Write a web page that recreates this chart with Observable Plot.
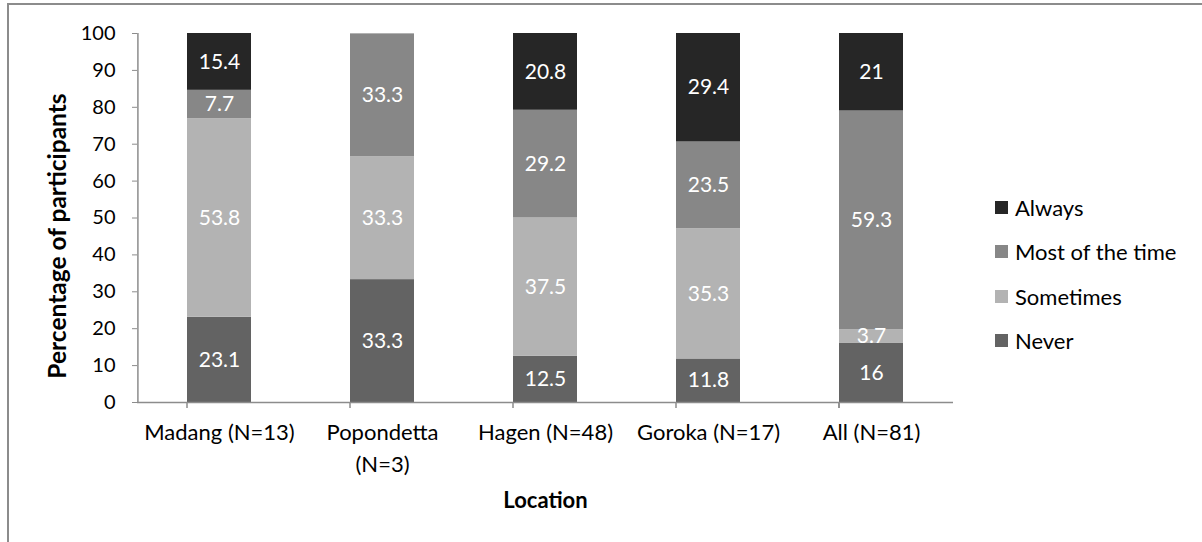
<!DOCTYPE html>
<html>
<head>
<meta charset="utf-8">
<script src="https://cdn.jsdelivr.net/npm/d3@7"></script>
<script src="https://cdn.jsdelivr.net/npm/@observablehq/plot@0.6"></script>
<style>
  html, body { margin: 0; padding: 0; background: #fff; }
  #wrap { position: relative; width: 1202px; height: 542px; overflow: hidden; font-family: Lato, "Open Sans", sans-serif; }
  #frame { position: absolute; left: 7px; top: 3px; width: 1300px; height: 700px; border-top: 2px solid #8c8c8c; border-left: 2px solid #8c8c8c; pointer-events: none; }
  #legend { position: absolute; left: 995px; top: 194px; font-size: 22px; color: #000; }
  #legend .item { display: flex; align-items: center; height: 26px; margin-bottom: 18.5px; }
  #legend .sw { width: 13px; height: 13px; margin-right: 7px; }
</style>
</head>
<body>
<div id="wrap"><div id="chart"></div><div id="legend"></div><div id="frame"></div></div>
<script>
const locations = ["Madang (N=13)", "Popondetta (N=3)", "Hagen (N=48)", "Goroka (N=17)", "All (N=81)"];
const locationLabels = ["Madang (N=13)", "Popondetta\n(N=3)", "Hagen (N=48)", "Goroka (N=17)", "All (N=81)"];
const responses = ["Never", "Sometimes", "Most of the time", "Always"];
const colors = ["#636363", "#b3b3b3", "#878787", "#262626"];
const never = [23.1, 33.3, 12.5, 11.8, 16];
const sometimes = [53.8, 33.3, 37.5, 35.3, 3.7];
const mostOfTheTime = [7.7, 33.3, 29.2, 23.5, 59.3];
const always = [15.4, 0, 20.8, 29.4, 21];
const yTicks = [0, 10, 20, 30, 40, 50, 60, 70, 80, 90, 100];
const legendOrder = ["Always", "Most of the time", "Sometimes", "Never"];

const series = [never, sometimes, mostOfTheTime, always];
const data = [];
locations.forEach((loc, i) => {
  responses.forEach((r, j) => {
    data.push({location: loc, response: r, value: series[j][i]});
  });
});

const left = 137, right = 953;
const step = (right - left) / locations.length;
const boundaries = locations.map((l) => ({loc: l, dx: -step / 2})).concat([{loc: locations[locations.length - 1], dx: step / 2}]);

const chart = Plot.plot({
  width: 1202,
  height: 542,
  marginLeft: left,
  marginRight: 1202 - right,
  marginTop: 33,
  marginBottom: 140,
  style: {fontFamily: "Lato, 'Open Sans', sans-serif", fontSize: "20px", color: "#000", background: "transparent"},
  x: {domain: locations, paddingInner: 0.61, paddingOuter: 0.305},
  y: {domain: [0, 100]},
  color: {domain: responses, range: colors},
  marks: [
    Plot.barY(data, Plot.stackY({x: "location", y: "value", fill: "response", order: responses})),
    Plot.text(data.filter(d => d.value > 0), Plot.stackY({x: "location", y: "value", z: "response", order: responses, text: d => String(d.value), fill: "white", fontSize: 21})),
    Plot.ruleY([0], {stroke: "#8c8c8c", strokeWidth: 1.5}),
    Plot.ruleX([locations[0]], {x: d => d, dx: -step / 2, y1: 0, y2: 100, stroke: "#8c8c8c", strokeWidth: 1.5}),
    Plot.axisY({ticks: yTicks, tickSize: 5, tickPadding: 17, stroke: "#8c8c8c", label: null, fontSize: 20}),
    Plot.ruleX(boundaries, {x: "loc", dx: "dx", y1: 0, y2: 0, insetBottom: -6, stroke: "#8c8c8c", strokeWidth: 1.5}),
    Plot.axisX({tickSize: 0, tickPadding: 15, tickFormat: (d) => locationLabels[locations.indexOf(d)], label: null, fontSize: 22, lineHeight: 1.45}),
    Plot.text(["Location"], {frameAnchor: "bottom", dy: 105, fontWeight: "bold", fontSize: 22}),
    Plot.text(["Percentage of participants"], {frameAnchor: "left", rotate: -90, dx: -79, dy: 18, textAnchor: "middle", fontWeight: "bold", fontSize: 24.5})
  ]
});
document.getElementById("chart").appendChild(chart);

const legend = document.getElementById("legend");
legendOrder.forEach(r => {
  const item = document.createElement("div");
  item.className = "item";
  const sw = document.createElement("div");
  sw.className = "sw";
  sw.style.background = colors[responses.indexOf(r)];
  const t = document.createElement("span");
  t.textContent = r;
  item.appendChild(sw); item.appendChild(t);
  legend.appendChild(item);
});
</script>
</body>
</html>
